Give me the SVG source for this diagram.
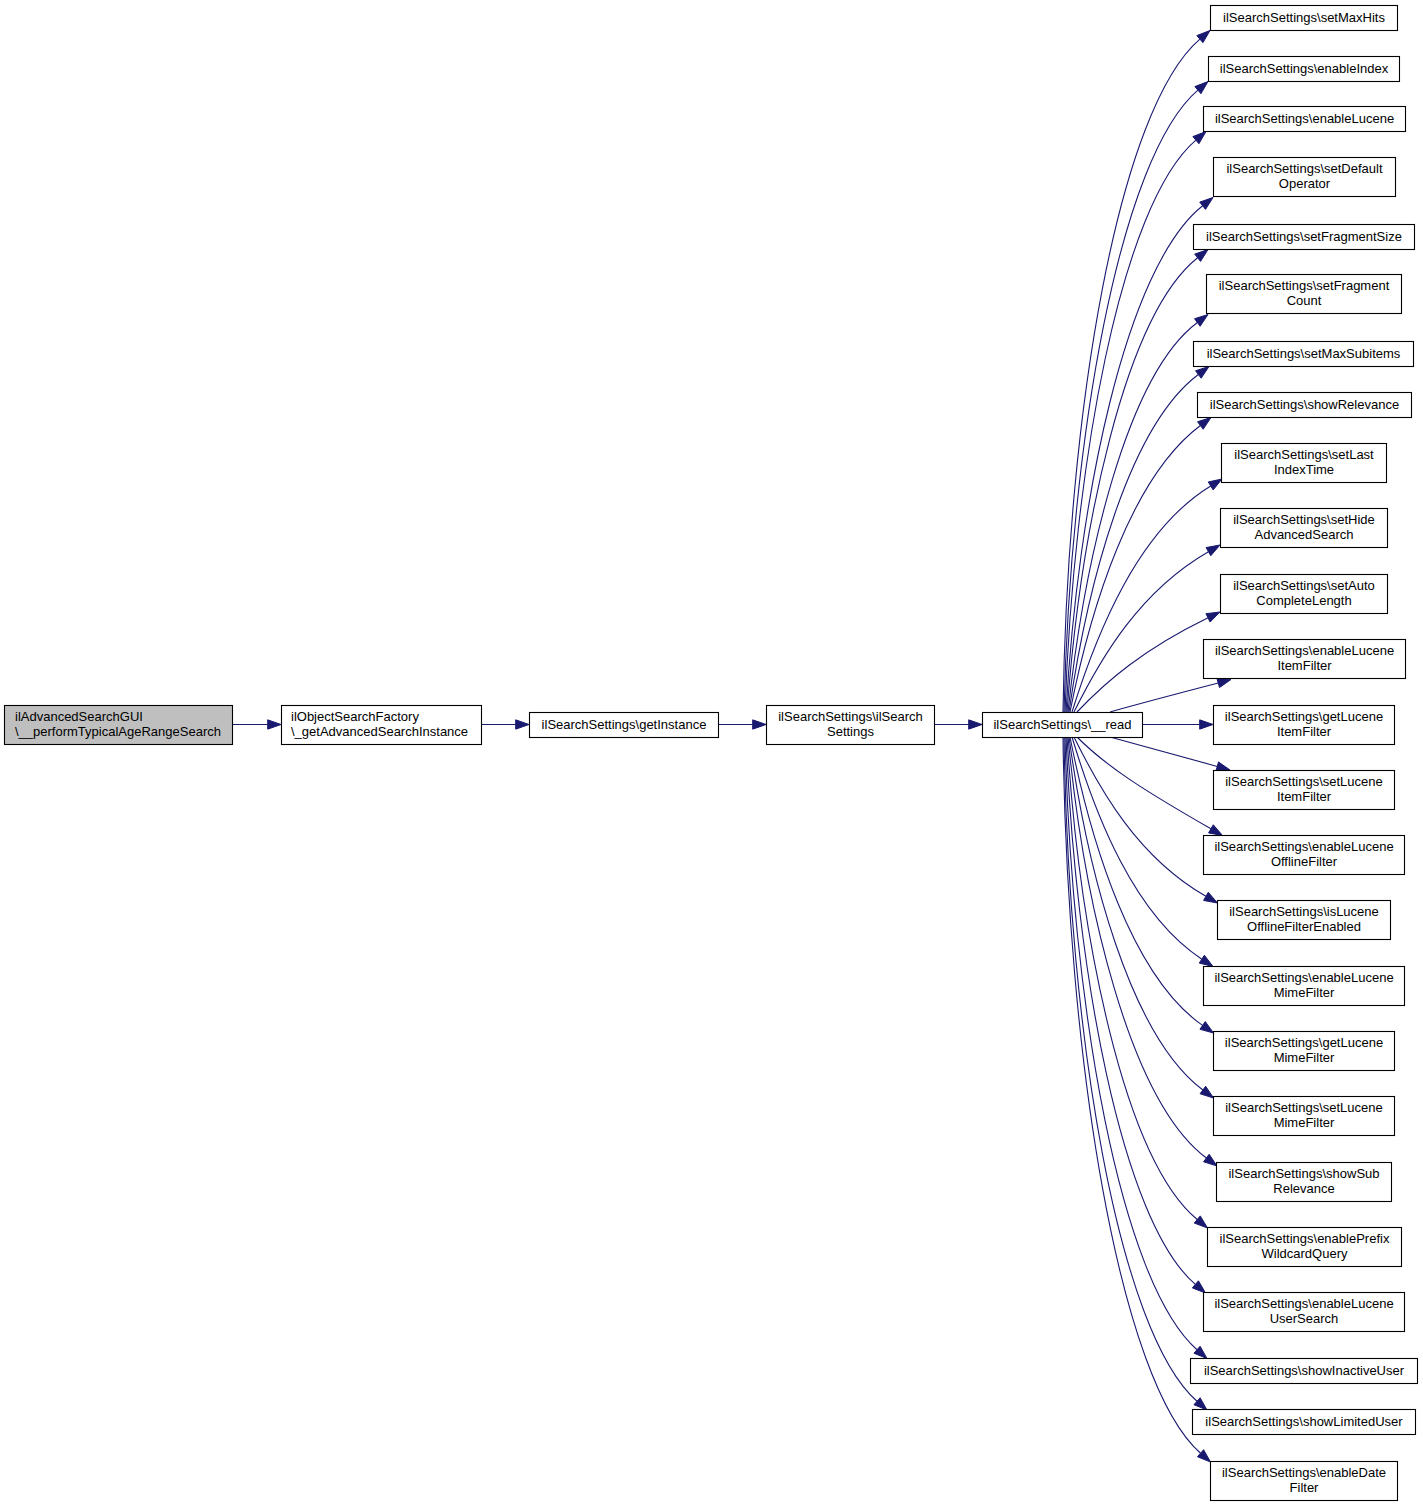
<svg xmlns="http://www.w3.org/2000/svg" width="1423" height="1507" viewBox="0 0 1423 1507">
<style>
.node rect{fill:#ffffff;stroke:#000000;stroke-width:1.1}
.root rect{fill:#bfbfbf}
text{font-family:"Liberation Sans",Arial,Helvetica,sans-serif;font-size:13px;fill:#000000}
.m{text-anchor:middle}
.s{text-anchor:start}
#edges path{fill:none;stroke:#191970;stroke-width:1.1}
#edges polygon{fill:#191970;stroke:#191970;stroke-width:1}
</style>
<rect x="0" y="0" width="1423" height="1507" fill="#ffffff"/>
<g id="edges">
<path d="M233,724.5 L267.7,724.5"/><polygon points="281,724.5 267.7,719.83 267.7,729.17"/>
<path d="M481,724.5 L515.7,724.5"/><polygon points="529,724.5 515.7,719.83 515.7,729.17"/>
<path d="M718,724.5 L752.7,724.5"/><polygon points="766,724.5 752.7,719.83 752.7,729.17"/>
<path d="M935,724.5 L968.7,724.5"/><polygon points="982,724.5 968.7,719.83 968.7,729.17"/>
<path d="M1063,712 C1067.2,408.2 1118.8,108.5 1199.9,39.15"/><polygon points="1210,30.5 1202.94,42.7 1196.86,35.6"/>
<path d="M1064,712 C1070.4,438.1 1119.7,157 1197.9,90.15"/><polygon points="1208,81.5 1200.94,93.7 1194.86,86.6"/>
<path d="M1065,712 C1073.4,466.6 1120.4,204.7 1195.9,140.15"/><polygon points="1206,131.5 1198.94,143.7 1192.86,136.6"/>
<path d="M1066,712 C1077.7,502.1 1125.2,267.3 1202.63,205.75"/><polygon points="1213,197.5 1205.53,209.39 1199.73,202.11"/>
<path d="M1067,712 C1080.5,529 1124.5,315.8 1197.63,257.75"/><polygon points="1208,249.5 1200.53,261.39 1194.73,254.11"/>
<path d="M1068,712 C1084.1,560.5 1126.3,375.7 1197.36,322.48"/><polygon points="1208,314.5 1200.16,326.22 1194.56,318.74"/>
<path d="M1069,712 C1087.3,584.7 1128.4,427 1198.36,374.48"/><polygon points="1209,366.5 1201.16,378.22 1195.56,370.74"/>
<path d="M1070,712 C1090.7,607 1130.8,477.7 1200.36,425.48"/><polygon points="1211,417.5 1203.16,429.22 1197.56,421.74"/>
<path d="M1072,712 C1096.9,632 1137.9,530.4 1210.7,485.92"/><polygon points="1222,479 1213.13,489.89 1208.27,481.95"/>
<path d="M1074,712 C1101,657.6 1139.4,591.4 1208.43,551.65"/><polygon points="1220,545 1210.77,555.71 1206.09,547.59"/>
<path d="M1077,712 C1106.3,681.3 1142.1,650.1 1208.03,617.85"/><polygon points="1220,612 1210.08,622.05 1205.98,613.65"/>
<path d="M1110,712 C1146,702 1182,692.5 1218.23,683.09"/><polygon points="1231,679.5 1219.49,687.57 1216.97,678.61"/>
<path d="M1142,724.5 L1199.7,724.5"/><polygon points="1213,724.5 1199.7,719.83 1199.7,729.17"/>
<path d="M1110,737 C1146,747 1182,756.5 1217.23,766.41"/><polygon points="1230,770 1215.97,770.89 1218.49,761.93"/>
<path d="M1077,737 C1107,767 1143.5,790.1 1210.93,828.85"/><polygon points="1222.5,835.5 1208.59,832.91 1213.27,824.79"/>
<path d="M1074,737 C1100.6,791.1 1138.2,857.4 1205.93,896.35"/><polygon points="1217.5,903 1203.59,900.41 1208.27,892.29"/>
<path d="M1072,737 C1095.5,815.4 1133.9,914.7 1201.83,959.18"/><polygon points="1213,966.5 1199.26,963.1 1204.4,955.26"/>
<path d="M1070,737 C1091,843 1131.8,976.2 1202.59,1025.42"/><polygon points="1213.5,1033 1199.93,1029.25 1205.25,1021.59"/>
<path d="M1069,737 C1087.3,871.5 1130,1035.4 1202.86,1090.02"/><polygon points="1213.5,1098 1200.06,1093.76 1205.66,1086.28"/>
<path d="M1068,737 C1083.8,903.7 1129.6,1100.5 1206.36,1158.02"/><polygon points="1217,1166 1203.56,1161.76 1209.16,1154.28"/>
<path d="M1067,737 C1079.2,934.7 1123.8,1158.5 1197.26,1219.49"/><polygon points="1207.5,1228 1194.27,1223.09 1200.25,1215.89"/>
<path d="M1066,737 C1075.4,968.9 1121.3,1221 1195.39,1284.35"/><polygon points="1205.5,1293 1192.35,1287.9 1198.43,1280.8"/>
<path d="M1065,737 C1071.7,1005.7 1120,1281.9 1197.02,1349.72"/><polygon points="1207,1358.5 1193.94,1353.22 1200.1,1346.22"/>
<path d="M1064,737 C1068.5,1035.5 1118.3,1332 1197.02,1401.22"/><polygon points="1207,1410 1193.94,1404.72 1200.1,1397.72"/>
<path d="M1063,737 C1067.2,1060.3 1119,1381.5 1200.52,1453.22"/><polygon points="1210.5,1462 1197.44,1456.72 1203.6,1449.72"/>
</g>
<g id="n_root" class="node root"><rect x="4.5" y="705.5" width="228" height="39"/><text class="s" x="15" y="720.5">ilAdvancedSearchGUI</text><text class="s" x="15" y="735.5">\__performTypicalAgeRangeSearch</text></g>
<g id="n_factory" class="node"><rect x="281.5" y="705.5" width="200" height="39"/><text class="s" x="291" y="720.5">ilObjectSearchFactory</text><text class="s" x="291" y="735.5">\_getAdvancedSearchInstance</text></g>
<g id="n_getInstance" class="node"><rect x="529.5" y="712.5" width="189" height="25"/><text class="m" x="624" y="729">ilSearchSettings\getInstance</text></g>
<g id="n_ctor" class="node"><rect x="766.5" y="705.5" width="168" height="39"/><text class="m" x="850.5" y="720.5">ilSearchSettings\ilSearch</text><text class="m" x="850.5" y="735.5">Settings</text></g>
<g id="n_read" class="node"><rect x="982.5" y="712.5" width="160" height="25"/><text class="m" x="1062.5" y="729">ilSearchSettings\__read</text></g>
<g id="n_setMaxHits" class="node"><rect x="1210.5" y="5.5" width="187" height="25"/><text class="m" x="1304" y="22">ilSearchSettings\setMaxHits</text></g>
<g id="n_enableIndex" class="node"><rect x="1208.5" y="56.5" width="191" height="25"/><text class="m" x="1304" y="73">ilSearchSettings\enableIndex</text></g>
<g id="n_enableLucene" class="node"><rect x="1203.5" y="106.5" width="202" height="25"/><text class="m" x="1304.5" y="123">ilSearchSettings\enableLucene</text></g>
<g id="n_setDefaultOperator" class="node"><rect x="1213.5" y="157.5" width="182" height="39"/><text class="m" x="1304.5" y="172.5">ilSearchSettings\setDefault</text><text class="m" x="1304.5" y="187.5">Operator</text></g>
<g id="n_setFragmentSize" class="node"><rect x="1193.5" y="224.5" width="221" height="25"/><text class="m" x="1304" y="241">ilSearchSettings\setFragmentSize</text></g>
<g id="n_setFragmentCount" class="node"><rect x="1206.5" y="274.5" width="195" height="39"/><text class="m" x="1304" y="289.5">ilSearchSettings\setFragment</text><text class="m" x="1304" y="304.5">Count</text></g>
<g id="n_setMaxSubitems" class="node"><rect x="1193.5" y="341.5" width="220" height="25"/><text class="m" x="1303.5" y="358">ilSearchSettings\setMaxSubitems</text></g>
<g id="n_showRelevance" class="node"><rect x="1197.5" y="392.5" width="214" height="25"/><text class="m" x="1304.5" y="409">ilSearchSettings\showRelevance</text></g>
<g id="n_setLastIndexTime" class="node"><rect x="1221.5" y="443.5" width="165" height="39"/><text class="m" x="1304" y="458.5">ilSearchSettings\setLast</text><text class="m" x="1304" y="473.5">IndexTime</text></g>
<g id="n_setHideAdvancedSearch" class="node"><rect x="1220.5" y="508.5" width="167" height="39"/><text class="m" x="1304" y="523.5">ilSearchSettings\setHide</text><text class="m" x="1304" y="538.5">AdvancedSearch</text></g>
<g id="n_setAutoCompleteLength" class="node"><rect x="1220.5" y="574.5" width="167" height="39"/><text class="m" x="1304" y="589.5">ilSearchSettings\setAuto</text><text class="m" x="1304" y="604.5">CompleteLength</text></g>
<g id="n_enableLuceneItemFilter" class="node"><rect x="1203.5" y="639.5" width="202" height="39"/><text class="m" x="1304.5" y="654.5">ilSearchSettings\enableLucene</text><text class="m" x="1304.5" y="669.5">ItemFilter</text></g>
<g id="n_getLuceneItemFilter" class="node"><rect x="1213.5" y="705.5" width="181" height="39"/><text class="m" x="1304" y="720.5">ilSearchSettings\getLucene</text><text class="m" x="1304" y="735.5">ItemFilter</text></g>
<g id="n_setLuceneItemFilter" class="node"><rect x="1213.5" y="770.5" width="181" height="39"/><text class="m" x="1304" y="785.5">ilSearchSettings\setLucene</text><text class="m" x="1304" y="800.5">ItemFilter</text></g>
<g id="n_enableLuceneOfflineFilter" class="node"><rect x="1203.5" y="835.5" width="201" height="39"/><text class="m" x="1304" y="850.5">ilSearchSettings\enableLucene</text><text class="m" x="1304" y="865.5">OfflineFilter</text></g>
<g id="n_isLuceneOfflineFilterEnabled" class="node"><rect x="1217.5" y="900.5" width="173" height="39"/><text class="m" x="1304" y="915.5">ilSearchSettings\isLucene</text><text class="m" x="1304" y="930.5">OfflineFilterEnabled</text></g>
<g id="n_enableLuceneMimeFilter" class="node"><rect x="1203.5" y="966.5" width="201" height="39"/><text class="m" x="1304" y="981.5">ilSearchSettings\enableLucene</text><text class="m" x="1304" y="996.5">MimeFilter</text></g>
<g id="n_getLuceneMimeFilter" class="node"><rect x="1213.5" y="1031.5" width="181" height="39"/><text class="m" x="1304" y="1046.5">ilSearchSettings\getLucene</text><text class="m" x="1304" y="1061.5">MimeFilter</text></g>
<g id="n_setLuceneMimeFilter" class="node"><rect x="1213.5" y="1096.5" width="181" height="39"/><text class="m" x="1304" y="1111.5">ilSearchSettings\setLucene</text><text class="m" x="1304" y="1126.5">MimeFilter</text></g>
<g id="n_showSubRelevance" class="node"><rect x="1216.5" y="1162.5" width="175" height="39"/><text class="m" x="1304" y="1177.5">ilSearchSettings\showSub</text><text class="m" x="1304" y="1192.5">Relevance</text></g>
<g id="n_enablePrefixWildcardQuery" class="node"><rect x="1207.5" y="1227.5" width="194" height="39"/><text class="m" x="1304.5" y="1242.5">ilSearchSettings\enablePrefix</text><text class="m" x="1304.5" y="1257.5">WildcardQuery</text></g>
<g id="n_enableLuceneUserSearch" class="node"><rect x="1203.5" y="1292.5" width="201" height="39"/><text class="m" x="1304" y="1307.5">ilSearchSettings\enableLucene</text><text class="m" x="1304" y="1322.5">UserSearch</text></g>
<g id="n_showInactiveUser" class="node"><rect x="1190.5" y="1358.5" width="227" height="25"/><text class="m" x="1304" y="1375">ilSearchSettings\showInactiveUser</text></g>
<g id="n_showLimitedUser" class="node"><rect x="1192.5" y="1409.5" width="223" height="25"/><text class="m" x="1304" y="1426">ilSearchSettings\showLimitedUser</text></g>
<g id="n_enableDateFilter" class="node"><rect x="1210.5" y="1461.5" width="187" height="39"/><text class="m" x="1304" y="1476.5">ilSearchSettings\enableDate</text><text class="m" x="1304" y="1491.5">Filter</text></g>
</svg>
